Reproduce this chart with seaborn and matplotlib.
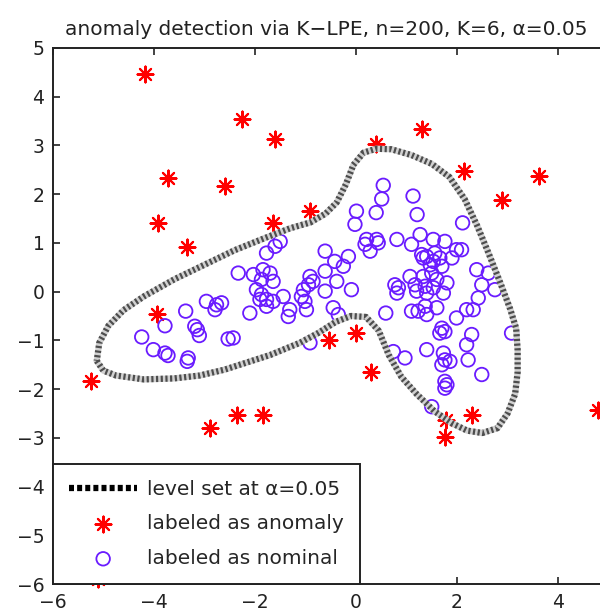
import numpy as np
import pandas as pd
import seaborn as sns
import matplotlib.pyplot as plt

# anomalies (red stars)
anom_x = [-4.18, -2.26, -1.60, -3.72, -2.59, -3.92, -3.35, -1.64, -0.91, 0.40,
          1.31, 2.14, 3.62, 2.89, -3.94, -5.25, -2.89, -2.36, -1.84, -0.53,
          0.00, 0.30, 1.78, 1.76, 2.30, 4.79, -5.10]
anom_y = [4.46, 3.53, 3.12, 2.34, 2.16, 1.40, 0.92, 1.40, 1.66, 3.02,
          3.33, 2.48, 2.38, 1.87, -0.45, -1.83, -2.79, -2.53, -2.53, -1.00,
          -0.84, -1.64, -2.63, -2.98, -2.53, -2.42, -5.90]

# nominal points (purple circles)
nom_x = [-2.33, -2.96, -2.76, -2.66, -2.79, -3.37, -3.78, -3.19, -3.14, -3.10,
         -4.24, -2.53, -4.01, -3.78, -3.72, -3.32, -3.34,
         -1.50, -1.60, -1.77, -0.61, -0.15, -0.42, -2.03, -1.84, -1.70,
         -1.87, -1.64, -0.61, -0.91, -0.85, -0.94, -0.38, -0.61, -0.09, -1.97,
         -1.87, -1.90, -1.77, -1.44, -1.64, -1.77, -1.04, -1.08, -1.01, -1.31,
         -1.34, -0.98, -2.10, -0.45, -0.35, -2.43, -0.91,
         0.54, 0.51, 0.01, 0.40, -0.02, 1.13, 1.21, 0.21, 0.41, 0.18,
         0.28, 0.81, 1.10, 1.27, 1.30, 1.40, -0.25, 0.77, 0.84, 1.07,
         1.17, 1.37, 0.44, 1.50,
         2.11, 1.53, 1.76, 1.99, 2.09, 1.56, 1.66, 1.53, 1.33, 1.47,
         1.70, 1.90, 2.39, 2.62, 2.49, 2.75, 1.33, 1.60, 1.80, 1.53, 1.73,
         0.81, 1.20, 1.40, 2.42, 0.59, 1.10, 1.23, 1.37, 1.40, 1.60,
         1.99, 2.32, 2.29, 1.70, 1.76, 1.66, 2.19, 2.22, 2.49, 3.08,
         1.40, 1.73, 1.76, 1.86, 1.70, 0.74, 0.97, 1.76, 1.76, 1.80,
         1.50, 2.19]
nom_y = [0.38, -0.20, -0.27, -0.23, -0.37, -0.40, -0.70, -0.71, -0.78, -0.90,
         -0.93, -0.97, -1.19, -1.26, -1.31, -1.36, -1.43,
         1.03, 0.93, 0.79, 0.83, 0.72, 0.62, 0.35, 0.45, 0.38,
         0.25, 0.21, 0.42, 0.31, 0.21, 0.14, 0.21, 0.01, 0.04, 0.04,
         -0.06, -0.16, -0.16, -0.10, -0.20, -0.30, 0.04, -0.10, -0.20, -0.37,
         -0.51, -0.37, -0.44, -0.33, -0.47, -0.95, -1.05,
         2.18, 1.90, 1.65, 1.62, 1.38, 1.96, 1.58, 1.07, 1.07, 0.97,
         0.83, 1.07, 0.97, 1.17, 0.76, 0.72, 0.52, 0.14, 0.08, 0.31,
         0.14, 0.11, 1.00, 0.38,
         1.41, 1.07, 1.03, 0.86, 0.86, 0.79, 0.69, 0.62, 0.69, 0.55,
         0.52, 0.69, 0.45, 0.38, 0.14, 0.04, 0.31, 0.25, 0.18, 0.08, -0.03,
         -0.03, 0.01, -0.03, -0.13, -0.44, -0.40, -0.40, -0.30, -0.47, -0.33,
         -0.54, -0.37, -0.88, -0.75, -0.82, -0.85, -1.09, -1.40, -1.70, -0.85,
         -1.19, -1.26, -1.40, -1.43, -1.50, -1.23, -1.36, -1.84, -1.98, -1.91,
         -2.36, -0.37]

# level set boundary at alpha=0.05
lvl_x = [-5.13, -5.00, -4.75, -4.20, -3.60, -3.09, -2.60, -2.24, -1.70, -1.11,
         -0.75, -0.40, -0.10, 0.20, 0.45, 0.65, 0.90, 1.20, 1.55, 1.90,
         2.20, 2.50, 2.80, 3.00, 3.15, 3.20, 3.20, 3.17, 3.05, 2.85,
         2.62, 2.40, 2.15, 1.85, 1.50, 1.10, 0.70, 0.40, 0.15, -0.05,
         -0.20, -0.38, -0.60, -0.90, -1.30, -1.80, -2.40, -3.00, -3.60, -4.20,
         -4.60, -4.90, -5.08, -5.13]
lvl_y = [-1.42, -1.62, -1.72, -1.80, -1.78, -1.72, -1.60, -1.48, -1.30, -1.05,
         -0.85, -0.62, -0.50, -0.52, -0.80, -1.30, -1.75, -2.10, -2.45, -2.70,
         -2.85, -2.90, -2.80, -2.50, -2.10, -1.65, -1.20, -0.75, -0.35, 0.20,
         0.80, 1.35, 1.90, 2.35, 2.62, 2.80, 2.92, 2.93, 2.85, 2.60,
         2.20, 1.83, 1.60, 1.42, 1.30, 1.10, 0.85, 0.55, 0.25, -0.10,
         -0.38, -0.70, -1.05, -1.42]

sns.set_theme(style="white")
plt.rcParams['font.family'] = ['DejaVu Sans']

fig = plt.figure(figsize=(6, 6.13), dpi=100)
ax = fig.add_axes([0.088, 0.047, 0.912, 0.875])

lvl = pd.DataFrame({"x": lvl_x, "y": lvl_y})
# light band under the fine dark dots, like the thick dotted MATLAB line
sns.lineplot(data=lvl, x="x", y="y", sort=False, estimator=None, ax=ax,
             color="0.82", lw=4.5, legend=False)
sns.lineplot(data=lvl, x="x", y="y", sort=False, estimator=None, ax=ax,
             color="0.3", lw=4.5, linestyle=(0, (0.35, 0.4)),
             label="level set at \u03b1=0.05")

sns.scatterplot(x=anom_x, y=anom_y, ax=ax, marker=(8, 2, 0), s=130,
                color="red", edgecolor="red", linewidth=1.5,
                label="labeled as anomaly", clip_on=False)
sns.scatterplot(x=nom_x, y=nom_y, ax=ax, marker="o", s=95,
                facecolor="none", edgecolor="#6a1bff", linewidth=1.3,
                label="labeled as nominal")

ax.set_xlim(-6, 4.83)
ax.set_ylim(-6, 5)
ax.set_xticks([-6, -4, -2, 0, 2, 4])
ax.set_yticks(range(-6, 6))
ax.set_xticklabels(["\u22126", "\u22124", "\u22122", "0", "2", "4"])
ax.set_yticklabels(["\u2212%d" % -v if v < 0 else str(v) for v in range(-6, 6)])
ax.tick_params(direction="in", length=5, width=1.2, labelsize=13.5,
               top=True, bottom=True, left=True, colors="#222")
ax.tick_params(axis="x", pad=6)
ax.tick_params(axis="y", pad=6)
ax.spines["right"].set_visible(False)
for s in ["left", "top", "bottom"]:
    ax.spines[s].set_linewidth(1.4)
    ax.spines[s].set_color("#222")
ax.set_xlabel("")
ax.set_ylabel("")
ax.set_title("anomaly detection via K\u2212LPE, n=200, K=6, \u03b1=0.05",
             fontsize=14.5, color="#222", pad=9)

leg = ax.legend(loc="lower left", borderaxespad=0, fontsize=14.5,
                frameon=True, fancybox=False, edgecolor="#222",
                handlelength=3.4, labelspacing=0.78, borderpad=0.8,
                handletextpad=0.5, framealpha=1)
leg.get_frame().set_linewidth(1.4)
leg.set_zorder(6)
leg.get_lines()[0].set_color("black")
leg.get_lines()[0].set_linestyle((0, (0.8, 0.5)))

fig.savefig("out.png", dpi=100)
